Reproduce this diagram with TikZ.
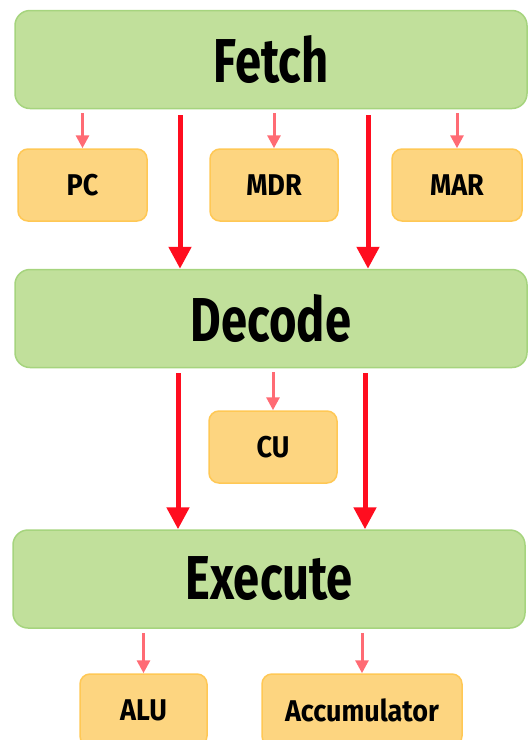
\documentclass[tikz,border=0pt]{standalone}
\usepackage{graphicx}
\usepackage{fontspec}
\setmainfont{Fira Sans}
\usepackage{tikz}
\definecolor{stagegreen}{RGB}{193,224,155}
\definecolor{stageedge}{RGB}{166,212,126}
\definecolor{regorange}{RGB}{253,213,128}
\definecolor{regedge}{RGB}{255,200,85}
\definecolor{flowred}{RGB}{255,13,31}
\definecolor{linkpink}{RGB}{255,107,116}
\usetikzlibrary{arrows.meta,positioning,calc}
\newcommand{\narrow}[1]{\scalebox{0.76}[1]{#1}}
\newcommand{\regtext}[1]{\scalebox{0.9}[1]{#1}}
\tikzset{
    stage/.style={rectangle, rounded corners=15pt, draw=stageedge, fill=stagegreen, line width=1.5pt, minimum width=512pt, minimum height=98pt, font=\fontsize{62}{62}\bfseries},
    reg/.style={rectangle, rounded corners=10pt, draw=regedge, fill=regorange, line width=1.5pt, minimum height=72pt, font=\fontsize{30}{30}\bfseries},
    flow/.style={-{Triangle[width=22pt,length=22pt]}, line width=5pt, color=flowred},
    link/.style={-{Triangle[width=13pt,length=13pt]}, line width=3pt, color=linkpink},
}
\begin{document}
\begin{tikzpicture}[x=1pt, y=-1pt]
    \useasboundingbox (0,0) rectangle (528,740);

    % Stage Layer
    \node[stage] (fetch) at (271,59.5) {\narrow{Fetch}};
    \node[stage] (decode) at (271,318.5) {\narrow{Decode}};
    \node[stage] (execute) at (269,579) {\narrow{Execute}};

    % Register Layer
    \node[reg, minimum width=129pt] (pc) at (82.5,185) {\regtext{PC}};
    \node[reg, minimum width=128pt] (mdr) at (274,185) {\regtext{MDR}};
    \node[reg, minimum width=130pt] (mar) at (457,185) {\regtext{MAR}};
    \node[reg, minimum width=128pt] (cu) at (273,447) {\regtext{CU}};
    \node[reg, minimum width=127pt] (alu) at (143.5,710) {\regtext{ALU}};
    \node[reg, minimum width=200pt] (acc) at (362,710) {\regtext{Accumulator}};

    % Main flow
    \draw[flow] ([xshift=-91pt,yshift=-6pt]fetch.south) -- ([xshift=-91pt]decode.north);
    \draw[flow] ([xshift=97pt,yshift=-6pt]fetch.south) -- ([xshift=97pt]decode.north);
    \draw[flow] ([xshift=-93pt,yshift=-5pt]decode.south) -- ([xshift=-91pt]execute.north);
    \draw[flow] ([xshift=94pt,yshift=-5pt]decode.south) -- ([xshift=96pt]execute.north);

    % Register links
    \draw[link] ([yshift=-4pt]fetch.south -| pc.north) -- (pc.north);
    \draw[link] ([yshift=-4pt]fetch.south -| mdr.north) -- (mdr.north);
    \draw[link] ([yshift=-4pt]fetch.south -| mar.north) -- (mar.north);
    \draw[link] ([yshift=-4pt]decode.south -| cu.north) -- (cu.north);
    \draw[link] ([yshift=-4pt]execute.south -| alu.north) -- (alu.north);
    \draw[link] ([yshift=-4pt]execute.south -| acc.north) -- (acc.north);
\end{tikzpicture}
\end{document}
